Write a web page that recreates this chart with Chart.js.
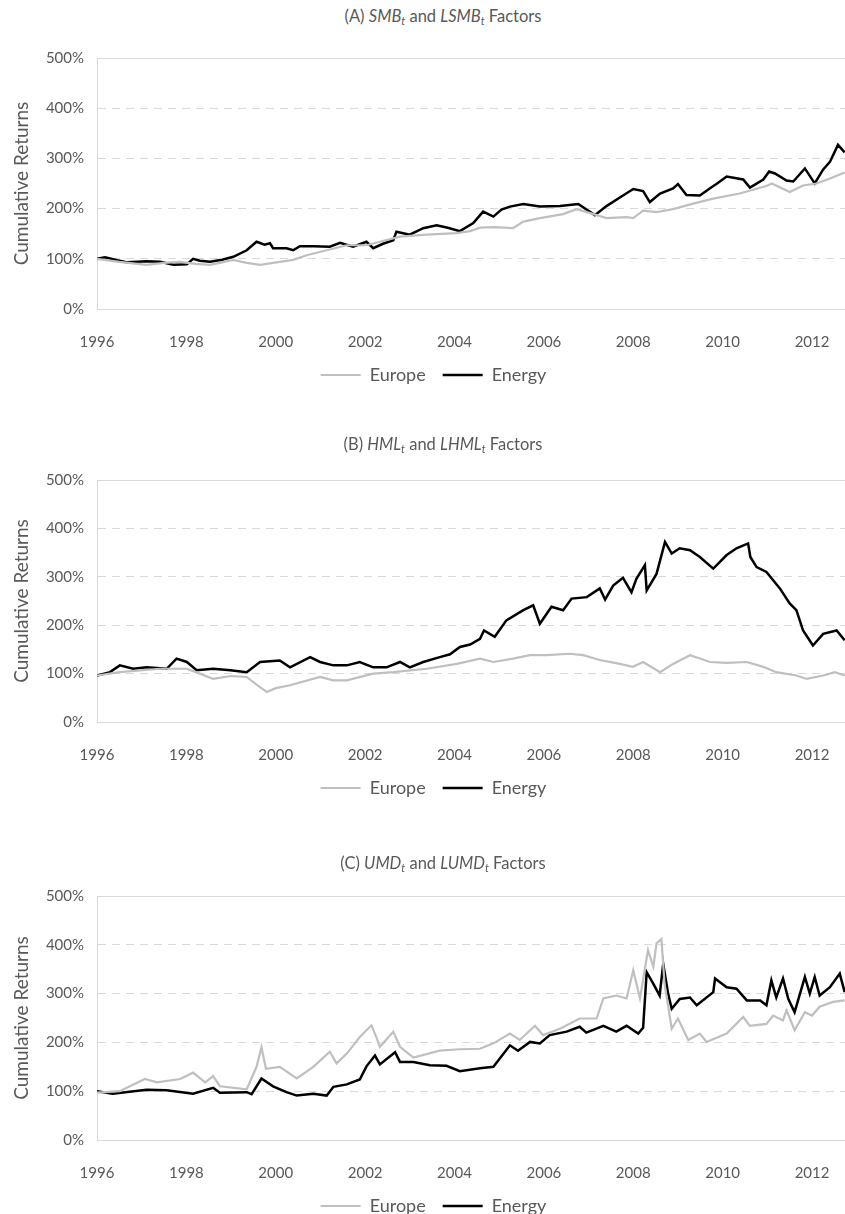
<!DOCTYPE html>
<html>
<head>
<meta charset="utf-8">
<script src="https://cdn.jsdelivr.net/npm/chart.js@4.4.1/dist/chart.umd.min.js"></script>
<style>
  html, body { margin: 0; padding: 0; background: #fff; }
  body { width: 845px; height: 1214px; position: relative; overflow: hidden; font-family: Lato, sans-serif; }
  .panel { position: absolute; left: 0; width: 845px; overflow: hidden; }
  .panel canvas { display: block; }
  .title { position: absolute; left: 0; width: 886px; text-align: center; color: #595959; font-size: 16.5px; line-height: 20px; }
  .title sub { font-size: 11px; line-height: 0; vertical-align: -3px; }
</style>
</head>
<body>
<div class="panel" style="top:30px;height:364px"><canvas id="chartA" width="867" height="364"></canvas></div>
<div class="panel" style="top:450px;height:357px"><canvas id="chartB" width="867" height="357"></canvas></div>
<div class="panel" style="top:866px;height:359px"><canvas id="chartC" width="867" height="359"></canvas></div>

<div class="title" style="top:6px">(A) <i>SMB<sub>t</sub></i> and <i>LSMB<sub>t</sub></i> Factors</div>
<div class="title" style="top:434px">(B) <i>HML<sub>t</sub></i> and <i>LHML<sub>t</sub></i> Factors</div>
<div class="title" style="top:853px">(C) <i>UMD<sub>t</sub></i> and <i>LUMD<sub>t</sub></i> Factors</div>

<script>
// axis ticks
const xTickYears = [1996, 1998, 2000, 2002, 2004, 2006, 2008, 2010, 2012];
const yTickValues = [0, 100, 200, 300, 400, 500];
const seriesNames = ['Europe', 'Energy'];

// (A) SMB / LSMB, cumulative returns in %
const smbEuropeYears = [1996.0, 1996.5, 1997.11, 1997.5, 1997.86, 1998.2, 1998.53, 1998.8, 1999.05, 1999.35, 1999.65, 2000.09, 2000.39, 2000.69, 2001.14, 2001.59, 2002.03, 2002.33, 2002.78, 2003.38, 2004.05, 2004.35, 2004.57, 2004.9, 2005.31, 2005.54, 2005.91, 2006.43, 2006.73, 2007.0, 2007.4, 2007.85, 2008.0, 2008.22, 2008.52, 2008.89, 2009.34, 2009.79, 2010.38, 2010.98, 2011.1, 2011.5, 2011.8, 2012.1, 2012.4, 2012.73];
const smbEuropeValues = [100, 94, 88, 92, 94, 90, 88, 93, 98, 92, 88, 94, 98, 107, 117, 127, 127, 134, 144, 148, 151, 155, 162, 163, 161, 174, 181, 189, 199, 192, 181, 183, 181, 196, 193, 199, 210, 220, 230, 245, 250, 233, 246, 250, 260, 272];
const smbEnergyYears = [1996.0, 1996.18, 1996.45, 1996.66, 1996.9, 1997.11, 1997.41, 1997.71, 1998.01, 1998.15, 1998.3, 1998.53, 1998.8, 1999.05, 1999.35, 1999.57, 1999.75, 1999.87, 1999.94, 2000.24, 2000.39, 2000.54, 2000.84, 2001.21, 2001.44, 2001.73, 2002.03, 2002.18, 2002.4, 2002.63, 2002.7, 2003.0, 2003.3, 2003.6, 2003.85, 2004.12, 2004.42, 2004.64, 2004.87, 2005.05, 2005.24, 2005.54, 2005.91, 2006.36, 2006.77, 2007.14, 2007.4, 2007.7, 2008.0, 2008.22, 2008.37, 2008.6, 2008.89, 2009.0, 2009.19, 2009.49, 2009.71, 2009.86, 2010.09, 2010.46, 2010.61, 2010.91, 2011.04, 2011.17, 2011.43, 2011.58, 2011.84, 2012.06, 2012.25, 2012.4, 2012.58, 2012.73];
const smbEnergyValues = [100, 103, 97, 93, 94, 95, 94, 88, 89, 100, 96, 94, 98, 104, 117, 134, 128, 131, 121, 121, 117, 125, 125, 124, 132, 124, 134, 121, 130, 137, 154, 148, 161, 167, 162, 155, 171, 194, 184, 198, 204, 209, 204, 205, 209, 187, 205, 222, 239, 235, 213, 230, 240, 249, 227, 226, 240, 249, 264, 258, 242, 258, 274, 270, 256, 254, 280, 250, 278, 293, 327, 312];

// (B) HML / LHML
const hmlEuropeYears = [1996.0, 1996.51, 1997.41, 1998.01, 1998.3, 1998.6, 1999.0, 1999.35, 1999.6, 1999.8, 2000.0, 2000.32, 2000.99, 2001.29, 2001.59, 2002.18, 2002.63, 2003.38, 2004.05, 2004.57, 2004.87, 2005.31, 2005.69, 2006.06, 2006.58, 2006.88, 2007.25, 2007.7, 2007.99, 2008.22, 2008.6, 2008.89, 2009.27, 2009.72, 2010.09, 2010.54, 2010.91, 2011.2, 2011.65, 2011.88, 2012.25, 2012.51, 2012.73];
const hmlEuropeValues = [96, 103, 110, 110, 100, 89, 95, 93, 75, 62, 70, 76, 93, 86, 86, 100, 103, 110, 120, 131, 124, 131, 138, 138, 141, 138, 128, 120, 114, 124, 103, 120, 138, 124, 122, 124, 114, 103, 96, 89, 96, 103, 96];
const hmlEnergyYears = [1996.0, 1996.29, 1996.51, 1996.81, 1997.11, 1997.56, 1997.78, 1998.01, 1998.23, 1998.6, 1998.98, 1999.35, 1999.65, 2000.09, 2000.32, 2000.77, 2000.99, 2001.29, 2001.59, 2001.88, 2002.18, 2002.48, 2002.78, 2003.0, 2003.3, 2003.67, 2003.9, 2004.12, 2004.35, 2004.57, 2004.66, 2004.9, 2005.16, 2005.54, 2005.76, 2005.91, 2006.17, 2006.43, 2006.62, 2006.96, 2007.25, 2007.37, 2007.55, 2007.77, 2007.96, 2008.07, 2008.26, 2008.3, 2008.52, 2008.71, 2008.86, 2009.04, 2009.27, 2009.49, 2009.79, 2010.09, 2010.31, 2010.57, 2010.62, 2010.76, 2010.98, 2011.13, 2011.28, 2011.5, 2011.65, 2011.8, 2012.02, 2012.25, 2012.55, 2012.73];
const hmlEnergyValues = [96, 103, 117, 110, 113, 110, 131, 124, 107, 110, 107, 103, 124, 127, 113, 134, 124, 117, 117, 124, 113, 113, 124, 113, 124, 134, 140, 155, 160, 172, 189, 176, 210, 231, 241, 203, 238, 231, 255, 258, 276, 253, 282, 298, 268, 296, 324, 272, 306, 372, 348, 359, 355, 341, 317, 345, 359, 369, 341, 320, 310, 293, 276, 245, 231, 189, 158, 182, 189, 169];

// (C) UMD / LUMD
const umdEuropeYears = [1996.0, 1996.51, 1997.07, 1997.34, 1997.86, 1998.15, 1998.42, 1998.6, 1998.75, 1999.35, 1999.57, 1999.68, 1999.78, 2000.09, 2000.47, 2000.84, 2001.21, 2001.36, 2001.59, 2001.88, 2002.14, 2002.25, 2002.33, 2002.63, 2002.78, 2003.08, 2003.67, 2004.12, 2004.57, 2004.87, 2005.24, 2005.46, 2005.8, 2005.98, 2006.36, 2006.8, 2007.18, 2007.33, 2007.62, 2007.85, 2008.0, 2008.15, 2008.33, 2008.45, 2008.52, 2008.63, 2008.7, 2008.86, 2009.0, 2009.23, 2009.49, 2009.64, 2010.09, 2010.46, 2010.61, 2010.98, 2011.13, 2011.35, 2011.43, 2011.61, 2011.84, 2012.0, 2012.17, 2012.47, 2012.73];
const umdEuropeValues = [97, 100, 125, 118, 125, 138, 118, 131, 110, 104, 150, 190, 146, 150, 126, 150, 181, 157, 177, 211, 235, 211, 191, 222, 191, 169, 183, 186, 187, 198, 218, 205, 234, 215, 228, 249, 249, 290, 296, 290, 348, 290, 389, 355, 403, 412, 320, 228, 249, 205, 218, 201, 218, 252, 234, 238, 255, 245, 266, 225, 262, 255, 273, 283, 286];
const umdEnergyYears = [1996.0, 1996.35, 1997.11, 1997.56, 1998.15, 1998.6, 1998.75, 1999.35, 1999.46, 1999.68, 1999.94, 2000.24, 2000.47, 2000.84, 2001.14, 2001.29, 2001.59, 2001.88, 2002.03, 2002.22, 2002.33, 2002.67, 2002.78, 2003.08, 2003.45, 2003.82, 2004.12, 2004.57, 2004.87, 2005.24, 2005.42, 2005.69, 2005.91, 2006.13, 2006.51, 2006.8, 2006.95, 2007.33, 2007.62, 2007.85, 2008.11, 2008.22, 2008.3, 2008.45, 2008.59, 2008.67, 2008.78, 2008.86, 2009.04, 2009.27, 2009.42, 2009.79, 2009.83, 2010.09, 2010.31, 2010.54, 2010.84, 2010.98, 2011.09, 2011.2, 2011.35, 2011.47, 2011.61, 2011.84, 2011.95, 2012.06, 2012.17, 2012.4, 2012.62, 2012.73];
const umdEnergyValues = [100, 95, 103, 102, 95, 107, 97, 98, 94, 126, 110, 98, 91, 95, 91, 109, 114, 124, 151, 173, 155, 180, 160, 160, 153, 152, 141, 147, 150, 194, 183, 201, 198, 215, 222, 232, 220, 234, 222, 234, 218, 230, 344, 320, 296, 361, 300, 269, 289, 292, 276, 303, 331, 313, 310, 286, 286, 276, 327, 292, 331, 289, 262, 334, 300, 334, 296, 313, 341, 303];

const textColor = '#595959';
const gridColor = '#d9d9d9';
Chart.defaults.font.family = 'Lato, sans-serif';
Chart.defaults.color = textColor;

function toPoints(xs, ys) {
  return xs.map((x, i) => ({ x: x, y: ys[i] }));
}

// Excel-style plot area: solid line along the top edge
const topEdge = {
  id: 'topEdge',
  beforeDatasetsDraw(chart) {
    const { ctx, chartArea } = chart;
    ctx.save();
    ctx.strokeStyle = gridColor;
    ctx.lineWidth = 1;
    ctx.beginPath();
    ctx.moveTo(chartArea.left, Math.round(chartArea.top) + 0.5);
    ctx.lineTo(chartArea.right, Math.round(chartArea.top) + 0.5);
    ctx.stroke();
    ctx.restore();
  }
};

function makePanel(id, padTop, europe, energy) {
  const ctx = document.getElementById(id).getContext('2d');
  return new Chart(ctx, {
    type: 'line',
    data: {
      datasets: [
        { label: seriesNames[0], data: europe, borderColor: '#bfbfbf', backgroundColor: '#bfbfbf', borderWidth: 2.2 },
        { label: seriesNames[1], data: energy, borderColor: '#000000', backgroundColor: '#000000', borderWidth: 2.5 }
      ]
    },
    options: {
      responsive: false,
      animation: false,
      events: [],
      layout: { padding: { top: padTop, left: 0, right: 0, bottom: 0 } },
      elements: { point: { radius: 0 }, line: { tension: 0 } },
      scales: {
        x: {
          type: 'linear',
          min: 1996,
          max: 2013.23,
          afterBuildTicks: (scale) => { scale.ticks = xTickYears.map(v => ({ value: v })); },
          afterFit: (scale) => { scale.height = 40; },
          grid: { display: false },
          border: { display: true, color: gridColor, width: 1 },
          ticks: { padding: 16, font: { size: 15 }, color: textColor, maxRotation: 0, autoSkip: false, callback: v => String(v) }
        },
        y: {
          min: 0,
          max: 500,
          afterBuildTicks: (scale) => { scale.ticks = yTickValues.map(v => ({ value: v })); },
          afterFit: (scale) => { scale.width = 97; },
          grid: { color: gridColor, lineWidth: 1, drawTicks: false },
          border: { display: true, color: gridColor, width: 1, dash: [8, 6] },
          ticks: { padding: 13, font: { size: 15 }, color: textColor, callback: v => v + '%' },
          title: { display: true, text: 'Cumulative Returns', color: textColor, font: { size: 19 }, padding: { top: 10, bottom: 0 } }
        }
      },
      plugins: {
        legend: {
          position: 'bottom',
          labels: {
            usePointStyle: true,
            pointStyle: 'line',
            pointStyleWidth: 40,
            padding: 17,
            color: textColor,
            font: { size: 18 }
          }
        },
        tooltip: { enabled: false }
      }
    },
    plugins: [topEdge]
  });
}

makePanel('chartA', 28, toPoints(smbEuropeYears, smbEuropeValues), toPoints(smbEnergyYears, smbEnergyValues));
makePanel('chartB', 30, toPoints(hmlEuropeYears, hmlEuropeValues), toPoints(hmlEnergyYears, hmlEnergyValues));
makePanel('chartC', 30, toPoints(umdEuropeYears, umdEuropeValues), toPoints(umdEnergyYears, umdEnergyValues));
</script>
</body>
</html>
